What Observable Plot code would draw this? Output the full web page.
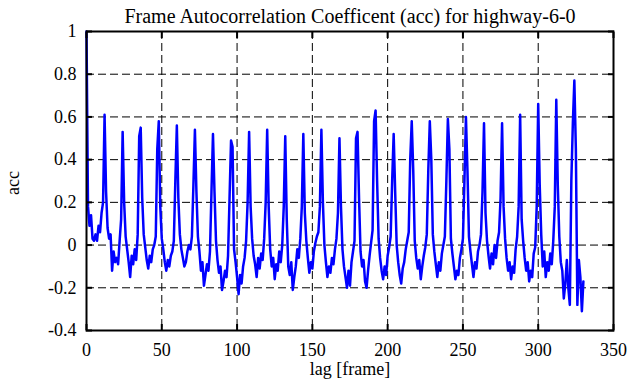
<!DOCTYPE html>
<html><head><meta charset="utf-8">
<script src="https://cdn.jsdelivr.net/npm/d3@7"></script>
<script src="https://cdn.jsdelivr.net/npm/@observablehq/plot@0.6"></script>
<style>
body{margin:0;background:#fff}
#chart svg text{font-family:'Liberation Serif','Times New Roman',serif !important;}
</style>
</head><body><div id="chart"></div>
<script>
const titleText = "Frame Autocorrelation Coefficent (acc) for highway-6-0";
const xLabel = "lag [frame]";
const yLabel = "acc";
const xTicks = [0, 50, 100, 150, 200, 250, 300, 350];
const yTicks = [-0.4, -0.2, 0, 0.2, 0.4, 0.6, 0.8, 1];
// acc value for lag = 0, 1, 2, ... 330
const acc = [
 1.00,
 0.18, 0.09, 0.14, 0.03, 0.02, 0.05, 0.02, 0.09, 0.06, 0.15, 0.20, 0.61,
 0.25, 0.08, 0.03, 0.05, -0.12, -0.03, -0.08, -0.06, -0.09, 0.02, 0.12, 0.53,
 0.20, 0.04, -0.02, -0.08, -0.15, -0.05, -0.09, -0.02, -0.07, 0.05, 0.51, 0.55,
 0.22, 0.05, -0.01, -0.07, -0.11, -0.05, -0.08, -0.02, 0.00, 0.04, 0.45, 0.58,
 0.18, 0.03, -0.02, -0.08, -0.12, -0.07, -0.10, -0.05, -0.03, 0.02, 0.30, 0.56,
 0.22, 0.05, -0.02, -0.06, -0.10, -0.08, -0.03, 0.00, -0.02, 0.04, 0.28, 0.54,
 0.25, 0.04, -0.03, -0.12, -0.08, -0.19, -0.14, -0.09, -0.12, -0.03, 0.25, 0.52,
 0.25, 0.02, -0.07, -0.13, -0.10, -0.21, -0.17, -0.12, -0.15, -0.05, 0.22, 0.49,
 0.46, -0.02, -0.08, -0.15, -0.23, -0.14, -0.18, -0.10, -0.06, 0.02, 0.20, 0.53,
 0.18, 0.03, -0.05, -0.09, -0.15, -0.06, -0.11, -0.04, -0.07, 0.03, 0.20, 0.54,
 0.18, -0.02, -0.10, -0.06, -0.16, -0.09, -0.12, -0.03, -0.08, 0.00, 0.18, 0.51,
 0.12, -0.10, -0.14, -0.08, -0.21, -0.15, -0.10, -0.02, -0.06, 0.03, 0.18, 0.52,
 0.15, 0.02, -0.06, -0.13, -0.08, -0.11, -0.03, 0.01, 0.04, 0.06, 0.18, 0.54,
 0.20, 0.00, -0.08, -0.15, -0.10, -0.13, -0.06, -0.09, -0.02, 0.03, 0.15, 0.50,
 0.18, -0.02, -0.10, -0.15, -0.20, -0.12, -0.19, -0.08, -0.03, 0.02, 0.50, 0.53,
 0.22, -0.03, -0.10, -0.07, -0.17, -0.20, -0.12, -0.05, 0.01, 0.07, 0.58, 0.63,
 0.30, 0.03, -0.06, -0.12, -0.16, -0.10, -0.14, -0.05, -0.01, 0.04, 0.30, 0.52,
 0.25, 0.00, -0.08, -0.14, -0.18, -0.11, -0.08, -0.02, 0.02, 0.06, 0.40, 0.58,
 0.35, 0.02, -0.06, -0.11, -0.07, -0.16, -0.10, -0.05, -0.01, 0.05, 0.35, 0.58,
 0.40, 0.05, -0.03, -0.09, -0.15, -0.08, -0.12, -0.04, 0.00, 0.04, 0.30, 0.59,
 0.45, 0.03, -0.04, -0.10, -0.16, -0.12, -0.14, -0.06, -0.02, 0.03, 0.30, 0.60,
 0.35, 0.04, -0.03, -0.09, -0.15, -0.08, -0.11, -0.03, 0.00, 0.05, 0.25, 0.57,
 0.15, 0.02, -0.05, -0.11, -0.04, -0.09, 0.00, -0.06, 0.02, 0.06, 0.22, 0.57,
 0.18, 0.03, -0.06, -0.12, -0.08, -0.16, -0.10, -0.13, -0.02, 0.04, 0.18, 0.61,
 0.12, 0.02, -0.06, -0.12, -0.08, -0.17, -0.12, -0.15, -0.04, -0.01, 0.18, 0.66,
 0.28, 0.05, -0.10, -0.03, -0.15, -0.08, -0.12, -0.04, -0.09, 0.02, 0.18, 0.68,
 0.28, 0.04, -0.08, -0.12, -0.25, -0.18, -0.07, -0.20, -0.28, 0.30, 0.57, 0.77,
 0.45, -0.28, -0.07, -0.15, -0.31, -0.17
];
const data = acc.map((v, i) => ({lag: i, acc: v}));
const fmt = d => String(Math.round(d * 10) / 10);
const blank = () => "";
const font = "'Liberation Serif', 'Times New Roman', serif";
const fs = 18;
const chart = Plot.plot({
  width: 630, height: 387,
  marginLeft: 86, marginRight: 17, marginTop: 31, marginBottom: 57,
  style: {fontFamily: font, background: "white", color: "black"},
  x: {domain: [0, 350]},
  y: {domain: [-0.4, 1]},
  marks: [
    Plot.gridX(xTicks, {stroke: "black", strokeOpacity: 1, strokeWidth: 1, strokeDasharray: "8,4"}),
    Plot.gridY(yTicks, {stroke: "black", strokeOpacity: 1, strokeWidth: 1, strokeDasharray: "8,4"}),
    Plot.line(data, {x: "lag", y: "acc", stroke: "#0000ff", strokeWidth: 2.5}),
    Plot.frame({stroke: "black", strokeWidth: 2}),
    Plot.axisX(xTicks, {anchor: "bottom", tickSize: 0, tickPadding: 13, tickFormat: fmt, fontSize: fs, fontFamily: font, fontVariant: "normal", fill: "black", label: null}),
    Plot.axisY(yTicks, {anchor: "left", tickSize: 0, tickPadding: 10, tickFormat: fmt, fontSize: fs, fontFamily: font, fontVariant: "normal", fill: "black", label: null}),
    Plot.axisX(xTicks, {anchor: "bottom", tickSize: -6, strokeWidth: 2, tickFormat: blank, label: null}),
    Plot.axisX(xTicks, {anchor: "top", tickSize: -6, strokeWidth: 2, tickFormat: blank, label: null}),
    Plot.axisY(yTicks, {anchor: "left", tickSize: -6, strokeWidth: 2, tickFormat: blank, label: null}),
    Plot.axisY(yTicks, {anchor: "right", tickSize: -6, strokeWidth: 2, tickFormat: blank, label: null}),
    Plot.text([titleText], {text: d => d, frameAnchor: "top", dy: -23, fontSize: 20, fontFamily: font, fill: "black"}),
    Plot.text([xLabel], {text: d => d, frameAnchor: "bottom", dy: 44.5, fontSize: fs, fontFamily: font, fill: "black"}),
    Plot.text([yLabel], {text: d => d, frameAnchor: "left", rotate: -90, dx: -73, dy: 14, fontSize: fs, fontFamily: font, fill: "black"})
  ]
});
document.getElementById("chart").appendChild(chart);
</script>
</body></html>
